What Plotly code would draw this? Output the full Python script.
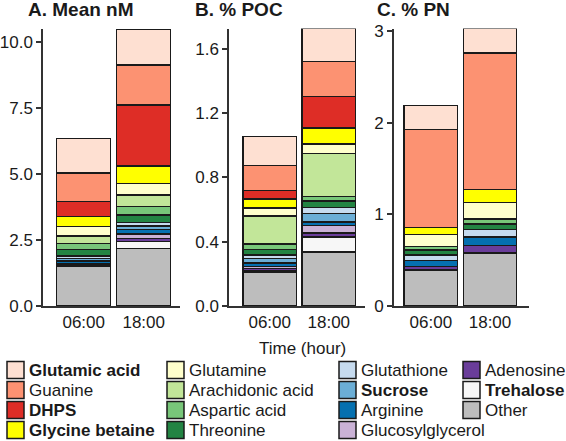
import plotly.graph_objects as go

# ---------------- data ----------------
times = ["06:00", "18:00"]

species = ["Other", "Trehalose", "Adenosine", "Glucosylglycerol", "Arginine",
           "Sucrose", "Glutathione", "Threonine", "Aspartic acid",
           "Arachidonic acid", "Glutamine", "Glycine betaine", "DHPS",
           "Guanine", "Glutamic acid"]

# values listed bottom -> top (same order as `species`)
mean_nM_0600 = [1.49, 0.04, 0.04, 0.05, 0.09, 0.10, 0.09, 0.25, 0.23, 0.27, 0.36, 0.38, 0.58, 1.08, 1.31]
mean_nM_1800 = [2.19, 0.25, 0.12, 0.17, 0.18, 0.13, 0.12, 0.29, 0.32, 0.45, 0.43, 0.67, 2.30, 1.52, 1.35]

poc_0600 = [0.21, 0.012, 0.012, 0.012, 0.02, 0.03, 0.02, 0.035, 0.035, 0.175, 0.048, 0.056, 0.052, 0.156, 0.182]
poc_1800 = [0.335, 0.093, 0.025, 0.047, 0.022, 0.052, 0.038, 0.04, 0.03, 0.266, 0.06, 0.098, 0.197, 0.216, 0.206]

pn_0600 = [0.394, 0, 0.04, 0, 0.065, 0, 0.06, 0.055, 0.035, 0, 0.134, 0.073, 0, 1.073, 0.26]
pn_1800 = [0.58, 0, 0.08, 0, 0.095, 0, 0.08, 0.06, 0.055, 0, 0.18, 0.14, 0, 1.495, 0.265]

panel_titles = ["A. Mean nM", "B. % POC", "C. % PN"]
y_ticks_A = [0, 2.5, 5.0, 7.5, 10.0]
y_ticks_B = [0, 0.4, 0.8, 1.2, 1.6]
y_ticks_C = [0, 1, 2, 3]

# legend layout (column-major, as in the reference)
legend_columns = [
    ["Glutamic acid", "Guanine", "DHPS", "Glycine betaine"],
    ["Glutamine", "Arachidonic acid", "Aspartic acid", "Threonine"],
    ["Glutathione", "Sucrose", "Arginine", "Glucosylglycerol"],
    ["Adenosine", "Trehalose", "Other"],
]
bold_names = {"Glutamic acid", "DHPS", "Glycine betaine", "Sucrose", "Trehalose"}

# ---------------- styles ----------------
colors = {
    "Glutamic acid": "#FEE0D2",
    "Guanine": "#FC9272",
    "DHPS": "#DE2D26",
    "Glycine betaine": "#FFFF00",
    "Glutamine": "#FFFFCC",
    "Arachidonic acid": "#C2E699",
    "Aspartic acid": "#78C679",
    "Threonine": "#238443",
    "Glutathione": "#C6DBEF",
    "Sucrose": "#6BAED6",
    "Arginine": "#0570B0",
    "Glucosylglycerol": "#CAB2D6",
    "Adenosine": "#6A3D9A",
    "Trehalose": "#F7F7F7",
    "Other": "#BDBDBD",
}

W, H = 566, 441
FONT = "Arial, Liberation Sans, Helvetica, sans-serif"
EDGE = "#1a1a1a"
AX = "#333333"

def px_x(p):
    return p / W

def px_y(p):
    return 1 - p / H

y_top_px, y_bot_px = 28.5, 306
panels = [
    dict(dom=(43.3, 180.0), xr=[-0.673, 1.605], yr=[0, 10.53], tv=y_ticks_A,
         tt=[f"{v:.1f}" for v in y_ticks_A], data=(mean_nM_0600, mean_nM_1800), title_x=26),
    dict(dom=(229.3, 365.0), xr=[-0.684, 1.613], yr=[0, 1.725], tv=y_ticks_B,
         tt=[f"{v:.1f}" for v in y_ticks_B], data=(poc_0600, poc_1800), title_x=193),
    dict(dom=(394.0, 529.3), xr=[-0.622, 1.664], yr=[0, 3.03], tv=y_ticks_C,
         tt=[f"{v:d}" for v in y_ticks_C], data=(pn_0600, pn_1800), title_x=375),
]

fig = go.Figure()
layout = dict(
    width=W, height=H, margin=dict(l=0, r=0, t=0, b=0, autoexpand=False),
    paper_bgcolor="white", plot_bgcolor="white",
    barmode="stack", bargap=0.1, showlegend=False,
    font=dict(family=FONT, size=17, color="#1a1a1a"),
)

annotations = []
shapes = []

for i, p in enumerate(panels):
    n = "" if i == 0 else str(i + 1)
    v06, v18 = p["data"]
    for k, sp in enumerate(species):
        ys = [v06[k] if v06[k] > 0 else None, v18[k] if v18[k] > 0 else None]
        fig.add_trace(go.Bar(
            x=[0, 1], y=ys, name=sp, width=0.9,
            marker=dict(color=colors[sp], line=dict(color=EDGE, width=1.5)),
            xaxis="x" + n, yaxis="y" + n, cliponaxis=False,
            hovertemplate=sp + ": %{y}<extra></extra>",
        ))
    layout["xaxis" + n] = dict(
        domain=[px_x(p["dom"][0]), px_x(p["dom"][1])], range=p["xr"],
        anchor="y" + n, tickvals=[0, 1], ticktext=times, ticks="",
        showline=True, linecolor=AX, linewidth=2, showgrid=False, zeroline=False,
        tickfont=dict(size=17, color="#1a1a1a"), fixedrange=True, automargin=False,
    )
    layout["yaxis" + n] = dict(
        domain=[px_y(y_bot_px), px_y(y_top_px)], range=p["yr"],
        anchor="x" + n, tickvals=p["tv"], ticktext=p["tt"],
        ticks="outside", ticklen=5, tickwidth=1.5, tickcolor=AX,
        showline=True, linecolor=AX, linewidth=2, showgrid=False, zeroline=False,
        tickfont=dict(size=17, color="#1a1a1a"), fixedrange=True, automargin=False,
    )
    annotations.append(dict(
        text="<b>" + panel_titles[i] + "</b>", xref="paper", yref="paper",
        x=px_x(p["title_x"]), y=px_y(10), xanchor="left", yanchor="middle",
        showarrow=False, font=dict(size=19, color="#1a1a1a"),
    ))

# x-axis title
annotations.append(dict(
    text="Time (hour)", xref="paper", yref="paper", x=px_x(302), y=px_y(348),
    xanchor="center", yanchor="middle", showarrow=False,
    font=dict(size=17, color="#1a1a1a"),
))

# legend (drawn as keyed swatches + text)
col_left = [7, 167, 339, 463]
row_center = [370, 390, 410, 430]
sw = 17
for c, names in enumerate(legend_columns):
    for r, nm in enumerate(names):
        x0 = col_left[c]
        yc = row_center[r]
        shapes.append(dict(
            type="rect", xref="paper", yref="paper",
            x0=px_x(x0), x1=px_x(x0 + sw), y0=px_y(yc + sw / 2), y1=px_y(yc - sw / 2),
            fillcolor=colors[nm], line=dict(color=EDGE, width=1.5),
        ))
        label = "<b>" + nm + "</b>" if nm in bold_names else nm
        annotations.append(dict(
            text=label, xref="paper", yref="paper", x=px_x(x0 + sw + 3), y=px_y(yc),
            xanchor="left", yanchor="middle", showarrow=False,
            font=dict(size=17, color="#1a1a1a"),
        ))

layout["annotations"] = annotations
layout["shapes"] = shapes
fig.update_layout(**layout)

fig.write_html(
    "out.html",
    config={"displayModeBar": False, "responsive": False},
    default_width="566px", default_height="441px",
    post_script=(
        "var s=document.createElement('style');"
        "s.textContent='html,body{margin:0;padding:0;width:566px;height:441px;overflow:hidden;}';"
        "document.head.appendChild(s);"
    ),
)
